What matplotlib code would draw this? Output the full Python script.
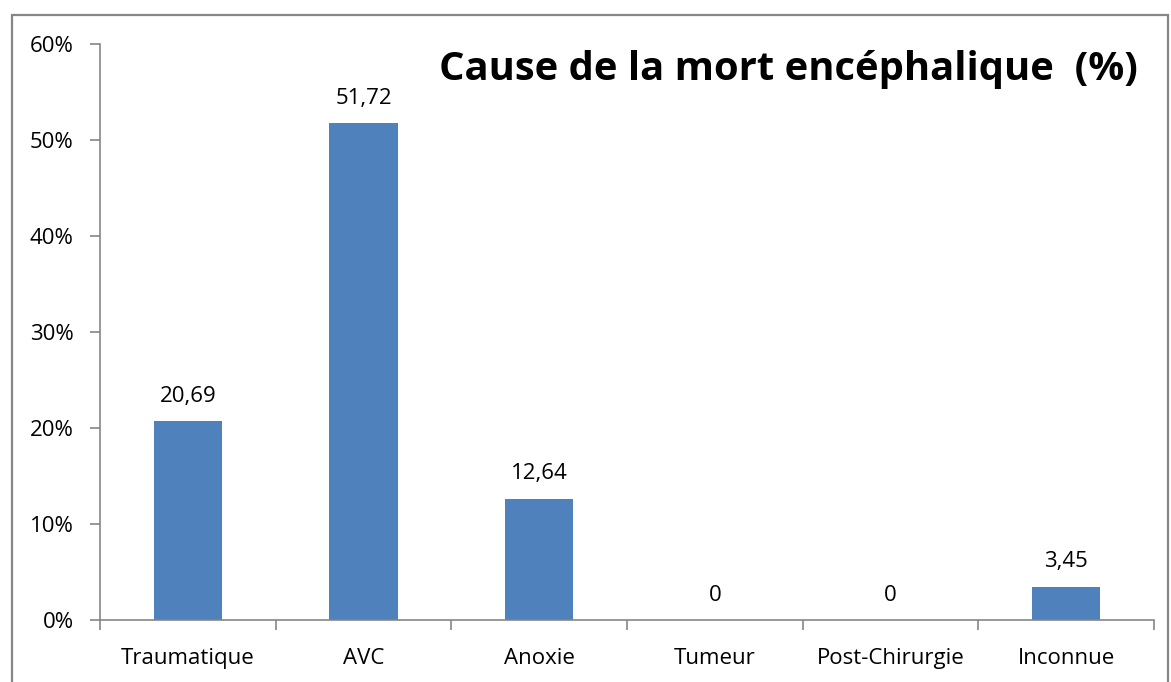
import numpy as np
import matplotlib
matplotlib.use("Agg")
import matplotlib.pyplot as plt
from matplotlib.patches import Rectangle
from matplotlib.ticker import FixedLocator, FuncFormatter

categories = ["Traumatique", "AVC", "Anoxie", "Tumeur", "Post-Chirurgie", "Inconnue"]
values = [20.69, 51.72, 12.64, 0, 0, 3.45]
value_labels = ["20,69", "51,72", "12,64", "0", "0", "3,45"]

plt.rcParams["font.family"] = ["Open Sans", "DejaVu Sans"]

W, H = 1171, 682
fig = plt.figure(figsize=(W / 100, H / 100), dpi=100)

# outer chart frame
fig.patches.append(Rectangle((12 / W, -0.01), (1168 - 12) / W, 1 - 15 / H + 0.01,
                             transform=fig.transFigure, fill=False,
                             edgecolor="#868686", linewidth=1.6))

left, right, top, bottom = 100, 1154, 44, 620
ax = fig.add_axes([left / W, 1 - bottom / H, (right - left) / W, (bottom - top) / H])

x = np.arange(len(categories))
ax.bar(x, values, width=0.39, color="#4F81BD")

ax.set_xlim(-0.5, len(categories) - 0.5)
ax.set_ylim(0, 60)
ax.yaxis.set_major_locator(FixedLocator(np.arange(0, 61, 10)))
ax.yaxis.set_major_formatter(FuncFormatter(lambda v, p: f"{v:.0f}%"))

ax.set_xticks(x)
ax.set_xticklabels(categories, fontsize=16)
ax.xaxis.set_minor_locator(FixedLocator(np.arange(-0.5, len(categories), 1)))
ax.tick_params(axis="x", which="major", length=0, pad=20)
ax.tick_params(axis="x", which="minor", length=7, direction="out", color="#868686", width=1.2)
ax.tick_params(axis="y", length=7, direction="out", color="#868686", width=1.2,
               labelsize=16, pad=12)

for s in ["top", "right"]:
    ax.spines[s].set_visible(False)
for s in ["left", "bottom"]:
    ax.spines[s].set_color("#868686")
    ax.spines[s].set_linewidth(1.2)

# data labels above the bars
for xi, v, lab in zip(x, values, value_labels):
    ax.text(xi, v + 1.5, lab, ha="center", va="bottom", fontsize=16)

ax.text(0.985, 0.955, "Cause de la mort encéphalique  (%)", transform=ax.transAxes,
        ha="right", va="center", fontsize=28.8, fontweight="bold")

fig.savefig("out.png", dpi=100)
